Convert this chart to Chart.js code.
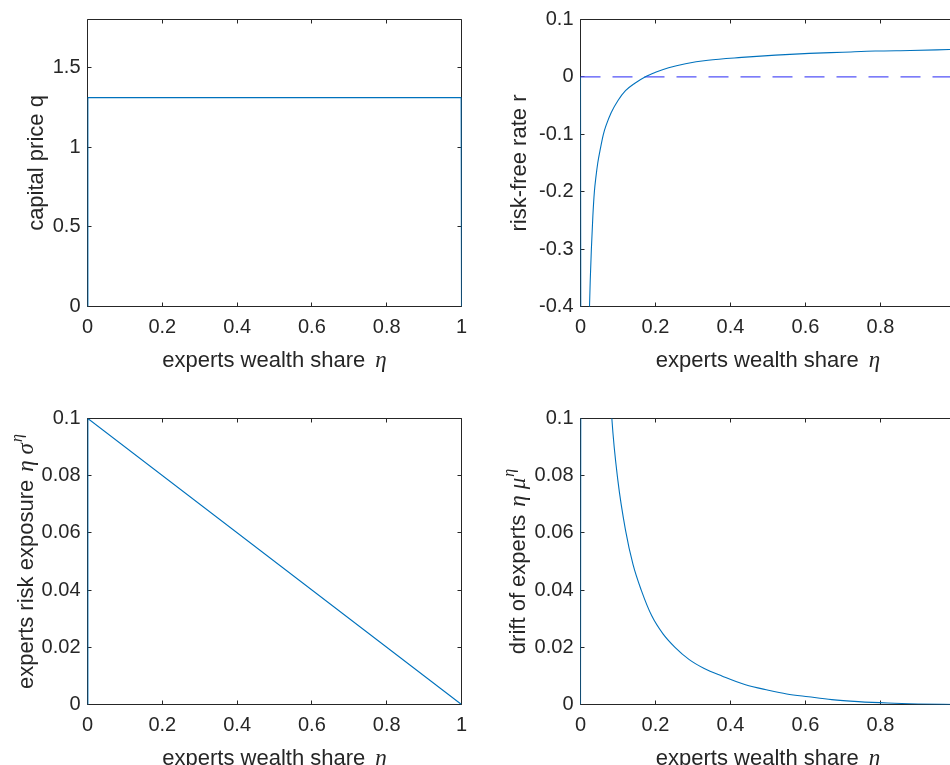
<!DOCTYPE html>
<html>
<head>
<meta charset="utf-8">
<script src="https://cdn.jsdelivr.net/npm/chart.js@4.4.1/dist/chart.umd.min.js"></script>
<style>
  html, body { margin: 0; padding: 0; background: #fff; overflow: hidden; width: 950px; height: 765px; }
  .panel { position: absolute; }
</style>
</head>
<body>
<div class="panel" style="left:0;top:0"><canvas id="cq" width="475" height="385"></canvas></div>
<div class="panel" style="left:475px;top:0"><canvas id="cr" width="490" height="385"></canvas></div>
<div class="panel" style="left:0;top:385px"><canvas id="cs" width="475" height="380"></canvas></div>
<div class="panel" style="left:475px;top:385px"><canvas id="cm" width="490" height="380"></canvas></div>
<script>
// experts wealth share (x) and the values
const etaQ = [0, 0.001, 0.999, 1];
const qVals = [0, 1.31, 1.31, 0];

const etaR = [0, 0.004, 0.02, 0.024, 0.026, 0.029, 0.033, 0.037, 0.041, 0.046, 0.053, 0.061, 0.068, 0.082,
  0.1, 0.12, 0.145, 0.172, 0.2, 0.235, 0.28, 0.34, 0.43, 0.52, 0.61, 0.7, 0.786, 0.88, 0.95, 1];
const rVals = [0, -2.0, -0.52, -0.4, -0.354, -0.3, -0.242, -0.2, -0.175, -0.15, -0.125, -0.1, -0.085, -0.062,
  -0.041, -0.024, -0.011, 0, 0.008, 0.016, 0.023, 0.029, 0.034, 0.038, 0.041, 0.043, 0.045, 0.046, 0.047, 0.048];
const zeroEta = [0, 1];
const zeroVals = [0, 0];

const etaS = [0, 0.001, 1];
const sigmaVals = [0, 0.1, 0];

const etaM = [0, 0.004, 0.06, 0.0836, 0.1, 0.12, 0.14, 0.162, 0.19, 0.22, 0.252, 0.29, 0.33,
  0.377, 0.44, 0.501, 0.55, 0.608, 0.67, 0.741, 0.82, 0.9, 1];
const muVals = [0, 0.5, 0.16, 0.1, 0.078, 0.061, 0.049, 0.04, 0.031, 0.0247, 0.02, 0.0157, 0.0126,
  0.01, 0.0069, 0.005, 0.0037, 0.0027, 0.0017, 0.001, 0.0005, 0.0002, 0];

const xTicks = [0, 0.2, 0.4, 0.6, 0.8, 1];

const SANS = '"Liberation Sans", Arial, Helvetica, sans-serif';
const SERIF = '"Liberation Serif", "Times New Roman", serif';
const INK = '#262626';
const BLUE = '#0072BD';

function pts(xs, ys) {
  return xs.map((x, i) => ({ x, y: ys[i] }));
}

// draws text made of pieces in different fonts, centered on 0
function drawPieces(ctx, pieces) {
  let total = 0;
  pieces.forEach(p => { ctx.font = p.font; p.w = ctx.measureText(p.text).width; total += p.w + (p.gap || 0); });
  let x = -total / 2;
  pieces.forEach(p => {
    x += p.gap || 0;
    ctx.font = p.font;
    ctx.fillText(p.text, x, p.dy || 0);
    x += p.w;
  });
}

const half = v => Math.floor(v) + 0.5;

// matlab-like box, inward ticks and mixed-font axis labels
const matlabAxes = {
  id: 'matlabAxes',
  beforeDatasetsDraw(chart, args, opts) {
    const { ctx, chartArea: a, scales } = chart;
    const L = half(a.left), R = half(a.right), T = half(a.top), B = half(a.bottom);
    ctx.save();
    ctx.strokeStyle = INK;
    ctx.lineWidth = 1;
    ctx.beginPath();
    ctx.rect(L, T, R - L, B - T);
    const tl = 4;
    scales.x.ticks.forEach(t => {
      const px = half(scales.x.getPixelForValue(t.value));
      ctx.moveTo(px, B); ctx.lineTo(px, B - tl);
      ctx.moveTo(px, T); ctx.lineTo(px, T + tl);
    });
    scales.y.ticks.forEach(t => {
      const py = half(scales.y.getPixelForValue(t.value));
      ctx.moveTo(L, py); ctx.lineTo(L + tl, py);
      ctx.moveTo(R, py); ctx.lineTo(R - tl, py);
    });
    ctx.stroke();

    ctx.fillStyle = INK;
    ctx.textBaseline = 'alphabetic';
    ctx.textAlign = 'left';
    // x label
    ctx.save();
    ctx.translate((a.left + a.right) / 2, a.bottom + opts.xTitleOffset);
    drawPieces(ctx, [
      { text: 'experts wealth share', font: '22px ' + SANS },
      { text: 'η', font: 'italic 23px ' + SERIF, gap: 10 }
    ]);
    ctx.restore();
    // y label
    ctx.save();
    ctx.translate(opts.yTitleX, (a.top + a.bottom) / 2);
    ctx.rotate(-Math.PI / 2);
    drawPieces(ctx, opts.yTitle);
    ctx.restore();
    ctx.restore();
  }
};

function makeChart(id, datasets, o) {
  return new Chart(document.getElementById(id), {
    type: 'line',
    data: { datasets },
    plugins: [matlabAxes],
    options: {
      responsive: false,
      animation: false,
      events: [],
      layout: { padding: { top: o.padTop, right: o.padRight, left: 0, bottom: 0 } },
      plugins: {
        legend: { display: false },
        tooltip: { enabled: false },
        matlabAxes: { yTitle: o.yTitle, yTitleX: o.yTitleX, xTitleOffset: 60 }
      },
      scales: {
        x: {
          type: 'linear', min: 0, max: 1,
          afterBuildTicks: s => { s.ticks = xTicks.map(v => ({ value: v })); },
          ticks: { color: INK, font: { family: SANS, size: 20 }, padding: 9, maxRotation: 0,
            callback: v => String(+v.toFixed(2)) },
          grid: { display: false, drawTicks: false },
          border: { display: false },
          afterFit: s => { s.height = o.xHeight; s.paddingLeft = 0; s.paddingRight = 0; }
        },
        y: {
          min: o.yMin, max: o.yMax,
          afterBuildTicks: s => { s.ticks = o.yTicks.map(v => ({ value: v })); },
          ticks: { color: INK, font: { family: SANS, size: 20 }, padding: 7,
            callback: v => String(+v.toFixed(2)) },
          grid: { display: false, drawTicks: false },
          border: { display: false },
          afterFit: s => { s.width = o.yWidth; s.paddingTop = 0; s.paddingBottom = 0; }
        }
      }
    }
  });
}

function curve(data, extra) {
  return Object.assign({
    data, borderColor: BLUE, borderWidth: 1.1, pointRadius: 0,
    cubicInterpolationMode: 'monotone', fill: false
  }, extra || {});
}

const straight = { cubicInterpolationMode: 'default', tension: 0 };

makeChart('cq', [curve(pts(etaQ, qVals), straight)], {
  padTop: 19.5, padRight: 13.5, xHeight: 78.5, yWidth: 87.5,
  yMin: 0, yMax: 1.8, yTicks: [0, 0.5, 1, 1.5], yTitleX: 43,
  yTitle: [{ text: 'capital price q', font: '22px ' + SANS }]
});

makeChart('cr', [
  curve(pts(etaR, rVals)),
  curve(pts(zeroEta, zeroVals), Object.assign({ borderColor: '#5252f7', borderWidth: 1.4, borderDash: [20, 12] }, straight))
], {
  padTop: 19.5, padRight: 9.5, xHeight: 78.5, yWidth: 105.5,
  yMin: -0.4, yMax: 0.1, yTicks: [-0.4, -0.3, -0.2, -0.1, 0, 0.1], yTitleX: 51,
  yTitle: [{ text: 'risk-free rate r', font: '22px ' + SANS }]
});

makeChart('cs', [curve(pts(etaS, sigmaVals), straight)], {
  padTop: 33.5, padRight: 13.5, xHeight: 60.5, yWidth: 87.5,
  yMin: 0, yMax: 0.1, yTicks: [0, 0.02, 0.04, 0.06, 0.08, 0.1], yTitleX: 33,
  yTitle: [
    { text: 'experts risk exposure', font: '22px ' + SANS },
    { text: 'η', font: 'italic 23px ' + SERIF, gap: 8 },
    { text: 'σ', font: 'italic 23px ' + SERIF, gap: 6 },
    { text: 'η', font: 'italic 16px ' + SERIF, dy: -11, gap: 1 }
  ]
});

makeChart('cm', [curve(pts(etaM, muVals))], {
  padTop: 33.5, padRight: 9.5, xHeight: 60.5, yWidth: 105.5,
  yMin: 0, yMax: 0.1, yTicks: [0, 0.02, 0.04, 0.06, 0.08, 0.1], yTitleX: 50,
  yTitle: [
    { text: 'drift of experts', font: '22px ' + SANS },
    { text: 'η', font: 'italic 23px ' + SERIF, gap: 8 },
    { text: 'μ', font: 'italic 23px ' + SERIF, gap: 6 },
    { text: 'η', font: 'italic 16px ' + SERIF, dy: -11, gap: 1 }
  ]
});
</script>
</body>
</html>
